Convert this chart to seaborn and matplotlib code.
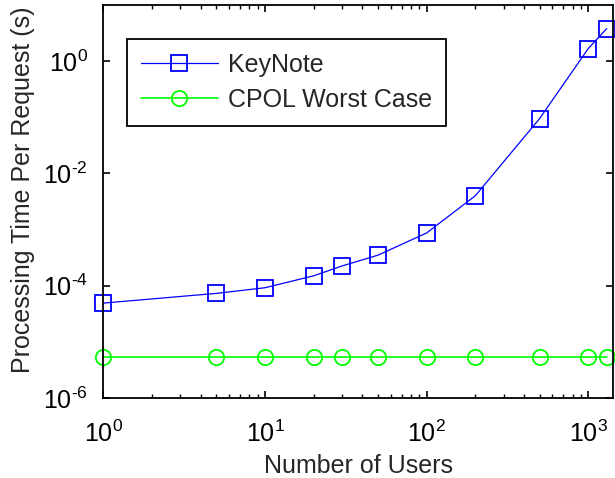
import matplotlib
matplotlib.use("Agg")
import matplotlib.pyplot as plt
import matplotlib.ticker as mticker
import seaborn as sns
import pandas as pd
import numpy as np

users = [1, 5, 10, 20, 30, 50, 100, 200, 500, 1000, 1300]
keynote = [4.9e-5, 7.3e-5, 9.2e-5, 1.5e-4, 2.25e-4, 3.5e-4, 8.7e-4, 4.0e-3, 0.095, 1.68, 3.8]
cpol = [5.3e-6] * len(users)
series_names = ["KeyNote", "CPOL Worst Case"]
x_label = "Number of Users"
y_label = "Processing Time Per Request (s)"

sns.set_style("ticks")
plt.rcParams["font.family"] = ["Liberation Sans", "DejaVu Sans"]
plt.rcParams["mathtext.fontset"] = "custom"
plt.rcParams["mathtext.rm"] = "Liberation Sans"
plt.rcParams["mathtext.it"] = "Liberation Sans"

fig = plt.figure(figsize=(6.15, 4.78), dpi=100)
ax = fig.add_axes([0.168, 0.1674, 0.829, 0.8221])

df = pd.DataFrame({"users": users, "keynote": keynote, "cpol": cpol})

sns.lineplot(data=df, x="users", y="keynote", ax=ax, color="#0000ff", marker="s",
             markersize=11, markerfacecolor="none", markeredgecolor="#0000ff",
             markeredgewidth=1.3, linewidth=0.9, label=series_names[0], clip_on=False)
sns.lineplot(data=df, x="users", y="cpol", ax=ax, color="#00ff00", marker="o",
             markersize=11, markerfacecolor="none", markeredgecolor="#00ff00",
             markeredgewidth=1.3, linewidth=1.2, label=series_names[1], clip_on=False)

ax.set_xscale("log")
ax.set_yscale("log")
ax.set_xlim(1, 1425)
ax.set_ylim(1e-6, 10)


def pow_fmt(v, pos):
    e = int(round(np.log10(v)))
    if e < 0:
        return r"$\mathdefault{10^{\text{-}%d}}$" % (-e)
    return r"$\mathdefault{10^{%d}}$" % e


ax.xaxis.set_major_locator(mticker.LogLocator(base=10, numticks=10))
ax.xaxis.set_minor_locator(mticker.LogLocator(base=10, subs=range(2, 10), numticks=20))
ax.xaxis.set_minor_formatter(mticker.NullFormatter())
ax.xaxis.set_major_formatter(mticker.FuncFormatter(pow_fmt))
ax.yaxis.set_major_locator(mticker.FixedLocator([1e-6, 1e-4, 1e-2, 1e0]))
ax.yaxis.set_minor_locator(mticker.NullLocator())
ax.yaxis.set_major_formatter(mticker.FuncFormatter(pow_fmt))

for s in ax.spines.values():
    s.set_visible(True)
    s.set_linewidth(1.3)
    s.set_color("black")

ax.tick_params(which="both", direction="in", top=True, right=True, labelsize=18,
               colors="black")
ax.tick_params(which="major", length=5, width=1.2)
ax.tick_params(axis="x", which="major", pad=16)
ax.tick_params(axis="y", which="major", pad=11)
ax.tick_params(which="minor", length=3, width=1.0)

ax.set_xlabel(x_label, fontsize=18, labelpad=5)
ax.set_ylabel(y_label, fontsize=18, labelpad=6)
ax.yaxis.label.set_y(0.53)

leg = ax.legend(loc="upper left", bbox_to_anchor=(0.046, 0.913), borderaxespad=0,
                fontsize=18, handlelength=3.1, handletextpad=0.4, labelspacing=0.45,
                borderpad=0.55, fancybox=False, framealpha=1, edgecolor="black")
leg.get_frame().set_linewidth(1.3)

fig.savefig("out.png", dpi=100)
